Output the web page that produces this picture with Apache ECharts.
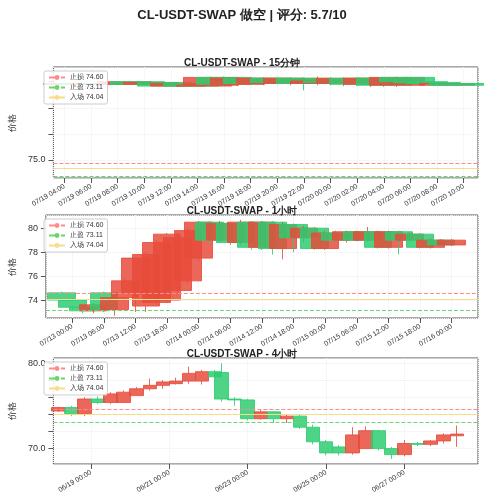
<!DOCTYPE html>
<html>
<head>
<meta charset="utf-8">
<script src="https://cdn.jsdelivr.net/npm/echarts@6/dist/echarts.min.js"></script>
<style>html,body{margin:0;padding:0;background:#fff}</style>
</head>
<body>
<div id="chart" style="width:484px;height:500px"></div>
<script>
// 价格水平
var stopLoss = 74.60, takeProfit = 73.11, entry = 74.04;

// 15分钟 K线: [时间, 开, 收, 低, 高]
var k15 = [
  ['2025-07-19 04:30', 83.7, 83.8, 83.6, 83.9],
  ['2025-07-19 05:30', 83.8, 83.7, 83.6, 83.9],
  ['2025-07-19 06:30', 83.7, 83.8, 83.6, 83.9],
  ['2025-07-19 07:30', 83.8, 83.7, 83.6, 83.9],
  ['2025-07-19 08:30', 83.7, 84.0, 83.6, 84.1],
  ['2025-07-19 09:30', 84.0, 83.7, 83.6, 84.1],
  ['2025-07-19 10:30', 83.7, 83.9, 83.5, 84.0],
  ['2025-07-19 11:30', 83.9, 83.5, 83.4, 84.0],
  ['2025-07-19 12:30', 83.5, 83.8, 83.4, 83.9],
  ['2025-07-19 13:30', 83.8, 83.5, 83.4, 83.9],
  ['2025-07-19 14:30', 83.5, 83.6, 83.4, 83.8],
  ['2025-07-19 15:00', 83.6, 84.5, 83.5, 84.6],
  ['2025-07-19 16:00', 84.5, 83.7, 83.5, 84.6],
  ['2025-07-19 17:00', 83.7, 84.4, 83.5, 84.5],
  ['2025-07-19 18:00', 84.4, 83.8, 83.6, 84.5],
  ['2025-07-19 19:00', 83.8, 84.4, 83.6, 84.5],
  ['2025-07-19 20:00', 84.4, 83.9, 83.7, 84.5],
  ['2025-07-19 21:00', 83.9, 84.4, 83.6, 84.5],
  ['2025-07-19 22:00', 84.4, 83.8, 83.0, 84.5],
  ['2025-07-19 23:00', 83.8, 84.1, 83.6, 84.6],
  ['2025-07-20 00:00', 84.1, 83.9, 83.6, 84.5],
  ['2025-07-20 01:00', 83.9, 84.4, 83.5, 84.5],
  ['2025-07-20 02:00', 84.4, 83.7, 83.5, 84.5],
  ['2025-07-20 03:00', 83.7, 84.4, 83.4, 84.5],
  ['2025-07-20 04:00', 84.4, 83.6, 83.4, 84.5],
  ['2025-07-20 05:00', 83.6, 84.5, 83.4, 84.6],
  ['2025-07-20 05:45', 84.5, 84.0, 83.7, 84.6],
  ['2025-07-20 06:45', 84.0, 83.9, 83.7, 84.1],
  ['2025-07-20 07:45', 83.9, 83.8, 83.6, 84.0],
  ['2025-07-20 08:45', 83.6, 83.8, 83.5, 83.9],
  ['2025-07-20 09:30', 83.8, 83.6, 83.5, 83.9]
];

// 1小时 K线
var k1h = [
  ['2025-07-12 22:00', 74.6, 74.0, 73.9, 74.7],
  ['2025-07-13 00:00', 74.0, 73.4, 73.2, 74.2],
  ['2025-07-13 02:00', 73.4, 73.1, 72.9, 73.6],
  ['2025-07-13 04:00', 73.1, 73.6, 72.9, 73.8],
  ['2025-07-13 06:00', 74.6, 73.2, 73.0, 74.7],
  ['2025-07-13 08:00', 73.2, 74.2, 72.7, 74.4],
  ['2025-07-13 10:00', 74.2, 75.6, 74.0, 75.8],
  ['2025-07-13 12:00', 74.6, 77.5, 73.0, 77.6],
  ['2025-07-13 14:00', 73.5, 77.8, 73.0, 78.0],
  ['2025-07-13 16:00', 73.8, 78.8, 73.6, 79.0],
  ['2025-07-13 18:00', 74.0, 79.5, 73.8, 79.6],
  ['2025-07-13 20:00', 74.8, 79.2, 74.6, 79.7],
  ['2025-07-13 22:00', 75.6, 79.8, 75.4, 80.0],
  ['2025-07-14 00:00', 77.5, 80.5, 77.3, 80.6],
  ['2025-07-14 02:00', 80.5, 79.0, 78.8, 80.6],
  ['2025-07-14 04:00', 79.0, 80.4, 78.8, 80.6],
  ['2025-07-14 06:00', 80.4, 78.8, 78.6, 80.5],
  ['2025-07-14 08:00', 78.8, 80.5, 78.6, 80.7],
  ['2025-07-14 10:00', 80.5, 78.4, 78.2, 80.6],
  ['2025-07-14 12:00', 78.4, 80.5, 78.2, 80.6],
  ['2025-07-14 14:00', 80.5, 78.3, 77.8, 80.6],
  ['2025-07-14 16:00', 78.3, 80.3, 77.4, 80.5],
  ['2025-07-14 18:00', 80.3, 79.2, 78.0, 80.4],
  ['2025-07-14 20:00', 79.2, 80.0, 78.8, 80.2],
  ['2025-07-14 22:00', 80.0, 78.3, 78.2, 80.1],
  ['2025-07-15 00:00', 78.3, 79.6, 78.2, 79.8],
  ['2025-07-15 02:00', 79.6, 79.0, 78.8, 79.8],
  ['2025-07-15 04:00', 79.0, 79.7, 78.8, 79.8],
  ['2025-07-15 06:00', 79.7, 79.0, 78.9, 79.8],
  ['2025-07-15 08:00', 79.0, 79.7, 78.9, 80.1],
  ['2025-07-15 10:00', 79.7, 78.4, 78.3, 79.8],
  ['2025-07-15 12:00', 78.4, 79.7, 78.3, 79.8],
  ['2025-07-15 14:00', 79.7, 79.0, 77.8, 79.8],
  ['2025-07-15 16:00', 79.0, 79.5, 78.9, 79.6],
  ['2025-07-15 18:00', 79.5, 78.4, 78.3, 79.6],
  ['2025-07-15 20:00', 78.4, 79.0, 78.3, 79.1],
  ['2025-07-15 22:00', 79.0, 78.6, 78.5, 79.1],
  ['2025-07-16 00:00', 78.6, 79.0, 78.5, 79.1]
];

// 4小时 K线
var k4h = [
  ['2025-06-18 04:00', 74.4, 74.8, 74.3, 74.9],
  ['2025-06-18 12:00', 74.8, 74.1, 73.8, 75.0],
  ['2025-06-18 20:00', 74.1, 75.8, 73.8, 76.0],
  ['2025-06-19 04:00', 75.8, 75.4, 75.2, 76.1],
  ['2025-06-19 12:00', 75.4, 76.4, 75.2, 76.6],
  ['2025-06-19 20:00', 75.4, 76.6, 75.4, 76.8],
  ['2025-06-20 04:00', 76.2, 77.0, 76.2, 77.2],
  ['2025-06-20 12:00', 77.0, 77.4, 76.8, 78.2],
  ['2025-06-20 20:00', 77.4, 77.8, 77.0, 78.0],
  ['2025-06-21 04:00', 77.6, 77.9, 77.5, 78.3],
  ['2025-06-21 12:00', 77.9, 78.8, 77.6, 79.6],
  ['2025-06-21 20:00', 77.9, 79.0, 77.5, 79.2],
  ['2025-06-22 04:00', 79.0, 78.4, 78.2, 79.2],
  ['2025-06-22 08:00', 78.9, 75.8, 75.5, 80.0],
  ['2025-06-22 16:00', 75.8, 75.7, 75.0, 76.0],
  ['2025-06-23 00:00', 75.7, 73.5, 73.3, 75.8],
  ['2025-06-23 08:00', 73.5, 74.3, 73.4, 74.5],
  ['2025-06-23 16:00', 74.3, 73.5, 73.0, 74.4],
  ['2025-06-24 00:00', 73.5, 73.8, 73.0, 74.0],
  ['2025-06-24 08:00', 73.8, 72.5, 72.3, 74.0],
  ['2025-06-24 16:00', 72.5, 70.8, 70.5, 72.8],
  ['2025-06-25 00:00', 70.8, 69.5, 69.2, 71.0],
  ['2025-06-25 08:00', 70.2, 69.5, 69.2, 70.4],
  ['2025-06-25 16:00', 69.5, 71.6, 69.3, 72.5],
  ['2025-06-26 00:00', 70.0, 72.1, 70.0, 72.6],
  ['2025-06-26 08:00', 72.1, 70.0, 69.8, 72.2],
  ['2025-06-26 16:00', 70.0, 69.3, 68.8, 70.2],
  ['2025-06-27 00:00', 69.3, 70.6, 69.1, 71.0],
  ['2025-06-27 08:00', 70.6, 70.5, 70.3, 70.8],
  ['2025-06-27 16:00', 70.5, 70.9, 70.3, 71.0],
  ['2025-06-28 00:00', 70.9, 71.6, 70.6, 71.8],
  ['2025-06-28 08:00', 71.5, 71.7, 70.2, 72.7]
];

// 刻度
var yTicks15 = [75, 77.5, 80, 82.5, 85];
var yTicks1h = [74, 76, 78, 80];
var yTicks4h = [70, 72.5, 75, 77.5, 80];

var panels = [
  {title: 'CL-USDT-SWAP - 15分钟', data: k15, top: 67, h: 111, ymin: 72.9, ymax: 85.7, ticks: yTicks15, dec: 1,
   xmin: '2025-07-19 03:10', xmax: '2025-07-20 11:05', step: 3, bw: 55},
  {title: 'CL-USDT-SWAP - 1小时', data: k1h, top: 215, h: 103, ymin: 72.5, ymax: 81.1, ticks: yTicks1h, dec: 0,
   xmin: '2025-07-12 19:00', xmax: '2025-07-16 05:00', step: 12, bw: 28},
  {title: 'CL-USDT-SWAP - 4小时', data: k4h, top: 358, h: 106, ymin: 68.2, ymax: 80.6, ticks: yTicks4h, dec: 1,
   xmin: '2025-06-18 01:00', xmax: '2025-06-28 21:00', step: 48, bw: 14}
];

function ts(s) {
  var p = s.split(/[- :]/);
  return new Date(+p[0], +p[1] - 1, +p[2], +p[3], +p[4]).getTime();
}

var option = {
  animation: false,
  title: [{text: 'CL-USDT-SWAP 做空 | 评分: 5.7/10', left: 'center', top: 4,
           textStyle: {fontSize: 13, fontWeight: 'bold', color: '#222'}}],
  legend: [], grid: [], xAxis: [], yAxis: [], series: []
};

panels.forEach(function (p, i) {
  option.title.push({text: p.title, left: 'center', top: p.top - 14,
    textStyle: {fontSize: 10, fontWeight: 'bold', color: '#222'}});
  option.grid.push({left: 40, right: 6, top: p.top, height: p.h,
    show: true, borderColor: '#555', borderWidth: 1});
  var base = ts('2025-01-01 00:00');
  option.xAxis.push({
    type: 'time', gridIndex: i, min: ts(p.xmin), max: ts(p.xmax),
    minInterval: p.step * 3600000, maxInterval: p.step * 3600000,
    axisLine: {show: false}, axisTick: {show: true, lineStyle: {color: '#555'}},
    splitLine: {show: true, lineStyle: {color: '#eee', type: 'dotted'}},
    axisLabel: {rotate: 30, fontSize: 7, color: '#333', hideOverlap: false,
      formatter: function (v) { return echarts.time.format(v, '{MM}/{dd} {HH}:{mm}', false); }}
  });
  option.yAxis.push({
    type: 'value', gridIndex: i, min: p.ymin, max: p.ymax, splitNumber: 5,
    name: '价格', nameLocation: 'middle', nameGap: 26, nameTextStyle: {fontSize: 9, color: '#333'},
    axisLine: {show: false}, axisTick: {show: true, lineStyle: {color: '#555'}},
    splitLine: {show: true, lineStyle: {color: '#eee', type: 'dotted'}},
    axisLabel: {fontSize: 9, color: '#333', showMinLabel: false, showMaxLabel: false,
      formatter: function (v) {
        for (var j = 0; j < p.ticks.length; j++) if (Math.abs(p.ticks[j] - v) < 1e-6) return v.toFixed(p.dec);
        return '';
      }}
  });
  option.series.push({
    type: 'candlestick', xAxisIndex: i, yAxisIndex: i, barWidth: p.bw,
    itemStyle: {color: '#e74c3c', color0: '#2ecc71', borderColor: '#e74c3c', borderColor0: '#2ecc71', opacity: 0.85},
    data: p.data.map(function (d) { return [ts(d[0]), d[1], d[2], d[3], d[4]]; })
  });
  var lvls = [
    {name: '止损 ' + stopLoss.toFixed(2), v: stopLoss, c: '#ff8a8a', t: 'dashed'},
    {name: '止盈 ' + takeProfit.toFixed(2), v: takeProfit, c: '#6ad66a', t: 'dashed'},
    {name: '入场 ' + entry.toFixed(2), v: entry, c: '#f7dc8a', t: 'solid'}
  ];
  lvls.forEach(function (l) {
    option.series.push({
      type: 'line', name: l.name, xAxisIndex: i, yAxisIndex: i, data: [], symbol: 'none',
      lineStyle: {color: l.c, type: l.t, width: 1}, itemStyle: {color: l.c},
      markLine: {silent: true, symbol: 'none', label: {show: false},
        lineStyle: {color: l.c, type: l.t, width: 1}, data: [{yAxis: l.v}]}
    });
  });
  option.legend.push({
    data: lvls.map(function (l) { return l.name; }), orient: 'vertical',
    left: 44, top: p.top + 4, itemWidth: 16, itemHeight: 6, itemGap: 3,
    textStyle: {fontSize: 7, color: '#333'}, padding: [3, 4],
    backgroundColor: 'rgba(255,255,255,0.85)', borderColor: '#ccc', borderWidth: 1, borderRadius: 2
  });
});

var chart = echarts.init(document.getElementById('chart'));
chart.setOption(option);
</script>
</body>
</html>
